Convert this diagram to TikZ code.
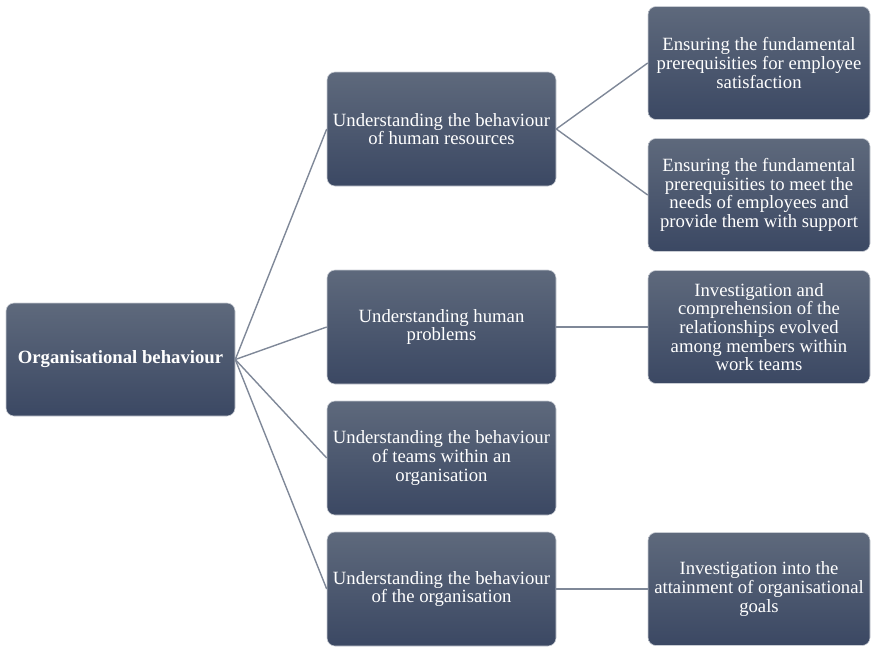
\documentclass[tikz,border=0pt]{standalone}
\usepackage{fontspec}
\setmainfont{Liberation Serif}
\definecolor{boxtop}{HTML}{5E697C}
\definecolor{boxbot}{HTML}{3B4863}
\definecolor{boxedge}{HTML}{C9CDD4}
\definecolor{linkgray}{HTML}{7F8898}
\begin{document}
\begin{tikzpicture}[x=1pt,y=-1pt,
  card/.style={rectangle, rounded corners=8pt, draw=boxedge, line width=0.6pt,
    top color=boxtop, bottom color=boxbot, text=white, align=center,
    inner sep=2pt, font=\fontsize{18.7}{18.6}\selectfont},
  rootcard/.style={card, minimum width=229pt, minimum height=113pt, font=\fontsize{18.7}{18.6}\selectfont\bfseries},
  midcard/.style={card, minimum width=229pt, minimum height=114pt},
  leafcard/.style={card, minimum width=222pt, minimum height=113pt},
  link/.style={draw=linkgray, line width=1.4pt}
]
\useasboundingbox (0,0) rectangle (872,646);

% root
\node[rootcard] (root) at (120.5,359.5) {Organisational behaviour};

% second level
\node[midcard] (m1) at (441.5,129) {Understanding the behaviour\\of human resources};
\node[midcard] (m2) at (441.5,327) {Understanding human\\problems};
\node[midcard] (m3) at (441.5,458) {Understanding the behaviour\\of teams within an\\organisation};
\node[midcard] (m4) at (441.5,589) {Understanding the behaviour\\of the organisation};

% third level
\node[leafcard] (l1) at (759,63) {Ensuring the fundamental\\prerequisities for employee\\satisfaction};
\node[leafcard] (l2) at (759,195) {Ensuring the fundamental\\prerequisities to meet the\\needs of employees and\\provide them with support};
\node[leafcard] (l3) at (759,327) {Investigation and\\comprehension of the\\relationships evolved\\among members within\\work teams};
\node[leafcard] (l4) at (759,589) {Investigation into the\\attainment of organisational\\goals};

% connectors
\foreach \m in {m1,m2,m3,m4}
  \draw[link] (root.east) -- (\m.west);
\draw[link] (m1.east) -- (l1.west);
\draw[link] (m1.east) -- (l2.west);
\draw[link] (m2.east) -- (l3.west);
\draw[link] (m4.east) -- (l4.west);
\end{tikzpicture}
\end{document}
